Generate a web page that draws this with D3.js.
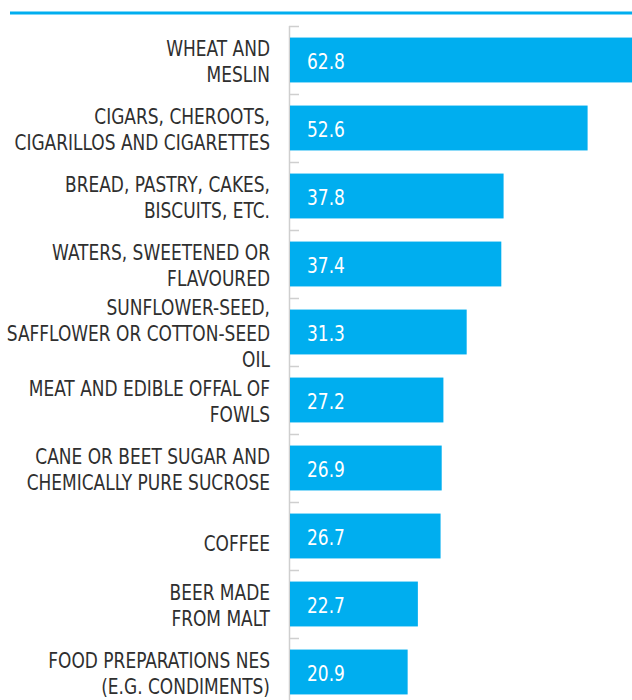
<!DOCTYPE html>
<html><head><meta charset="utf-8">
<script src="https://cdn.jsdelivr.net/npm/d3@7"></script>
<style>
body{margin:0;background:#fff;}
svg{display:block;}
</style></head>
<body>
<svg id="chart" width="632" height="700"></svg>
<script>
const categories = [
  ["WHEAT AND", "MESLIN"],
  ["CIGARS, CHEROOTS,", "CIGARILLOS AND CIGARETTES"],
  ["BREAD, PASTRY, CAKES,", "BISCUITS, ETC."],
  ["WATERS, SWEETENED OR", "FLAVOURED"],
  ["SUNFLOWER-SEED,", "SAFFLOWER OR COTTON-SEED", "OIL"],
  ["MEAT AND EDIBLE OFFAL OF", "FOWLS"],
  ["CANE OR BEET SUGAR AND", "CHEMICALLY PURE SUCROSE"],
  ["COFFEE"],
  ["BEER MADE", "FROM MALT"],
  ["FOOD PREPARATIONS NES", "(E.G. CONDIMENTS)"]
];
const values = [62.8, 52.6, 37.8, 37.4, 31.3, 27.2, 26.9, 26.7, 22.7, 20.9];

const svg = d3.select("#chart");
const blue = "#00aeef";
const font = "'DejaVu Sans Condensed','Liberation Sans Narrow','Roboto',sans-serif";
const sx = 0.86;

// top rule
svg.append("line").attr("x1", 10).attr("x2", 632).attr("y1", 13).attr("y2", 13)
  .attr("stroke", blue).attr("stroke-width", 3);

const ids = categories.map((c, i) => i);
const y = d3.scaleBand().domain(ids).range([26, 706]).paddingInner(0.34).paddingOuter(0.17);
const x = d3.scaleLinear().domain([0, 62.8]).range([289, 645.5]);

// axis line + ticks at band boundaries
const g = svg.append("g");
g.append("line").attr("x1", 289.5).attr("x2", 289.5).attr("y1", 26).attr("y2", 700)
  .attr("stroke", "#cfcfcf").attr("stroke-width", 1.5);
g.selectAll("line.tick").data(ids).join("line").attr("class", "tick")
  .attr("x1", 289).attr("x2", 299)
  .attr("y1", d => Math.round(y(d) - y.step() * y.paddingOuter()) + 0.5)
  .attr("y2", d => Math.round(y(d) - y.step() * y.paddingOuter()) + 0.5)
  .attr("stroke", "#cfcfcf").attr("stroke-width", 1.5);

svg.selectAll("rect.bar").data(values).join("rect").attr("class", "bar")
  .attr("x", x(0) + 1).attr("y", (d, i) => y(i))
  .attr("width", d => x(d) - x(0) - 1).attr("height", y.bandwidth())
  .attr("fill", blue);

svg.selectAll("text.val").data(values).join("text").attr("class", "val")
  .attr("transform", (d, i) => `translate(307,${y(i) + y.bandwidth() / 2 + 1.5}) scale(${sx},1)`)
  .attr("dy", "0.36em").attr("fill", "#fff")
  .style("font-family", font).style("font-size", "22px")
  .text(d => d.toFixed(1));

const lh = 26;
const lab = svg.selectAll("text.lab").data(categories).join("text").attr("class", "lab")
  .attr("text-anchor", "end").attr("fill", "#2f2f2f")
  .attr("transform", (d, i) => {
    const cy = y(i) + y.bandwidth() / 2 + (d.length === 1 ? 7 : 1.5);
    return `translate(270,${cy}) scale(${sx},1)`;
  })
  .style("font-family", font).style("font-size", "22px");
lab.each(function(lines) {
  const t = d3.select(this);
  lines.forEach((ln, k) => {
    t.append("tspan").attr("x", 0)
      .attr("y", (k - (lines.length - 1) / 2) * lh)
      .attr("dy", "0.36em").text(ln);
  });
});
</script>
</body></html>
